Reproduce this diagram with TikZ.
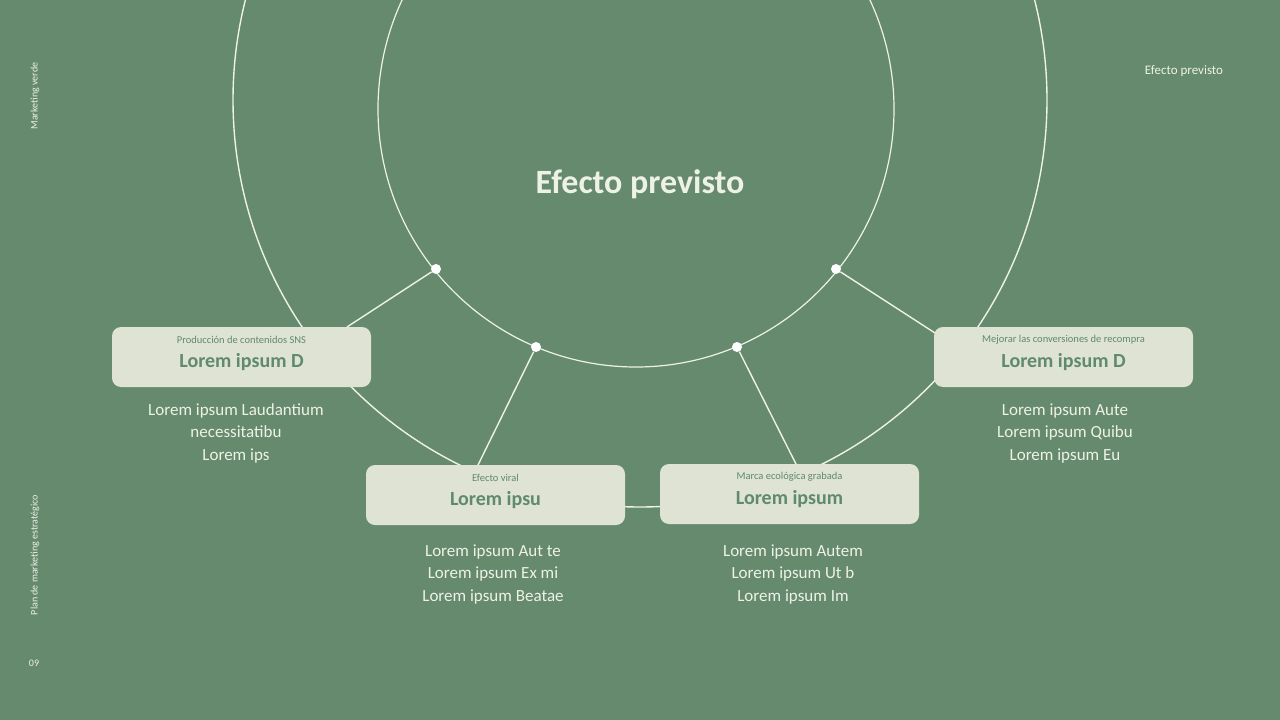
\documentclass[tikz,border=0pt]{standalone}
\usepackage{fontspec}
\setmainfont{Carlito}
\definecolor{bg}{HTML}{658A6E}
\definecolor{boxc}{HTML}{DFE3D4}
\definecolor{boxt}{HTML}{5F8A6B}
\definecolor{lt}{HTML}{EEF2E6}
\tikzset{
  card/.style={draw=none,fill=boxc,rounded corners=9pt,minimum width=259pt,minimum height=60pt},
  ln/.style={draw=lt,line width=1.4pt},
  dot/.style={circle,fill=white,inner sep=0pt,minimum size=10pt},
  body/.style={text=lt,font=\fontsize{17}{22.5}\selectfont,align=center,anchor=north},
  side/.style={text=lt,font=\fontsize{10}{12}\selectfont}
}
\begin{document}
\begin{tikzpicture}[x=1pt,y=-1pt]
\fill[bg] (0,0) rectangle (1280,720);
\useasboundingbox (0,0) rectangle (1280,720);
\begin{scope}
\clip (0,0) rectangle (1280,720);
\draw[ln] (640,100) circle (407);
\draw[ln,line width=1.2pt] (636,109) circle (258);
\end{scope}
\node[dot] (d1) at (436,269) {};
\node[dot] (d2) at (536,347) {};
\node[dot] (d3) at (737,347) {};
\node[dot] (d4) at (836,269) {};
\node[card] (b1) at (241.5,357) {};
\node[card] (b2) at (495.5,495) {};
\node[card] (b3) at (789.5,494) {};
\node[card] (b4) at (1063.5,357) {};
\coordinate (t1) at (347,327); \coordinate (t2) at (478,465);
\coordinate (t3) at (796,464); \coordinate (t4) at (935,333);
\draw[ln] (d1) -- (t1); \draw[ln] (d2) -- (t2);
\draw[ln] (d3) -- (t3); \draw[ln] (d4) -- (t4);
\foreach \b/\t/\s in {b1/Lorem ipsum D/Producción de contenidos SNS, b2/Lorem ipsu/Efecto viral, b3/Lorem ipsum/Marca ecológica grabada, b4/Lorem ipsum D/Mejorar las conversiones de recompra}{
  \node[text=boxt,font=\fontsize{20}{22}\selectfont\bfseries] (\b t) at ([yshift=-5pt]\b.center) {\t};
  \node[text=boxt,font=\fontsize{10.5}{12}\selectfont] (\b s) at ([yshift=17pt]\b.center) {\s};
}
\node[body] (x1) at (236,400) {Lorem ipsum Laudantium\\necessitatibu\\Lorem ips};
\node[body] (x2) at (493,541) {Lorem ipsum Aut te\\Lorem ipsum Ex mi\\Lorem ipsum Beatae};
\node[body] (x3) at (793,541) {Lorem ipsum Autem\\Lorem ipsum Ut b\\Lorem ipsum Im};
\node[body] (x4) at (1065,400) {Lorem ipsum Aute\\Lorem ipsum Quibu\\Lorem ipsum Eu};
\node[text=lt,font=\fontsize{34}{36}\selectfont\bfseries] (title) at (640,184) {Efecto previsto};
\node[side,font=\fontsize{13}{15}\selectfont] (tr) at (1184,71) {Efecto previsto};
\node[side,rotate=90] (s1) at (35,96) {Marketing verde};
\node[side,rotate=90] (s2) at (35,555) {Plan de marketing estratégico};
\node[side] (pg) at (34,663) {09};
\end{tikzpicture}
\end{document}
